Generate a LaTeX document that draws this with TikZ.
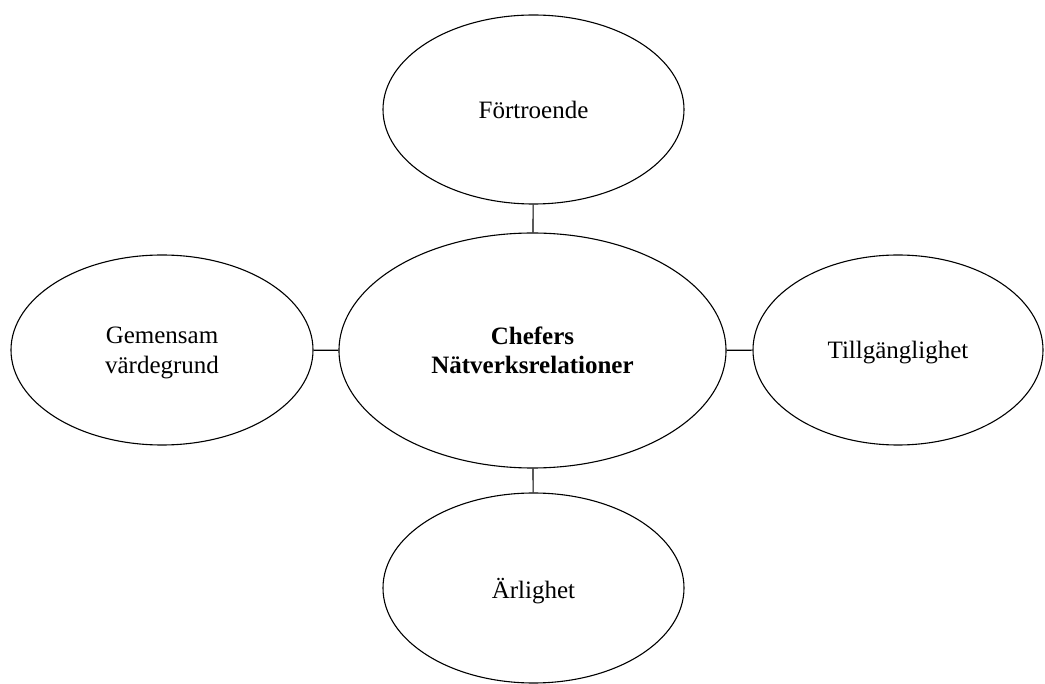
\documentclass[tikz,border=0pt]{standalone}
\usepackage{fontspec}
\setmainfont{Liberation Serif}
\usetikzlibrary{shapes.geometric}
\tikzset{bubble/.style={draw, ellipse, line width=1.1pt, inner sep=0pt, align=center,
    text depth=0pt, font=\fontsize{25}{30}\selectfont}}
\tikzstyle{link} = [line width=1.1pt]

\begin{document}
\begin{tikzpicture}[x=1pt,y=-1pt]
\useasboundingbox (0,0) rectangle (1045,684);

\node[bubble, minimum width=387, minimum height=235, font=\fontsize{25}{29}\selectfont\bfseries] (mid) at (532.5,350.5) {Chefers\\Nätverksrelationer};
\node[bubble, minimum width=301, minimum height=189] (top) at (533.5,109.5) {Förtroende};
\node[bubble, minimum width=302, minimum height=190] (left) at (162,350) {Gemensam\\värdegrund};
\node[bubble, minimum width=290, minimum height=190] (right) at (898,350) {Tillgänglighet};
\node[bubble, minimum width=301, minimum height=190] (bot) at (533.5,588) {Ärlighet};

\draw[link] (top) -- (mid);
\draw[link] (left) -- (mid);
\draw[link] (right) -- (mid);
\draw[link] (bot) -- (mid);
\end{tikzpicture}
\end{document}
